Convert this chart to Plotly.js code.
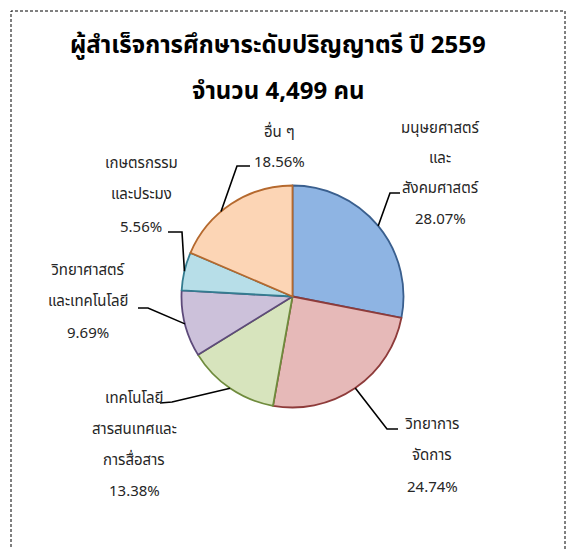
<!DOCTYPE html>
<html>
<head>
<meta charset="utf-8">
<script src="https://cdn.plot.ly/plotly-3.0.1.min.js"></script>
<style>html,body{margin:0;padding:0;background:#fff;}#chart{width:570px;height:549px;}</style>
</head>
<body>
<div id="chart"></div>
<script>
// ---- data ----
const categories = ['มนุษยศาสตร์และสังคมศาสตร์', 'วิทยาการจัดการ', 'เทคโนโลยีสารสนเทศและการสื่อสาร', 'วิทยาศาสตร์และเทคโนโลยี', 'เกษตรกรรมและประมง', 'อื่น ๆ'];
const percents = [28.07, 24.74, 13.38, 9.69, 5.56, 18.56];
const labelLines = [
  ['มนุษยศาสตร์', 'และ', 'สังคมศาสตร์'],
  ['วิทยาการ', 'จัดการ'],
  ['เทคโนโลยี', 'สารสนเทศและ', 'การสื่อสาร'],
  ['วิทยาศาสตร์', 'และเทคโนโลยี'],
  ['เกษตรกรรม', 'และประมง'],
  ['อื่น ๆ']
];
const titleLines = ['ผู้สำเร็จการศึกษาระดับปริญญาตรี ปี 2559', 'จำนวน 4,499 คน'];

// ---- styles ----
const fills = ['#8EB4E3', '#E6B9B8', '#D7E4BD', '#CCC1DA', '#B7DEE8', '#FCD5B5'];
const borders = ['#3A5F8E', '#8E3B3A', '#6F8B3D', '#5D4A7A', '#347C90', '#B5692E'];
const W = 570, H = 549;
const cx = 292.5, cy = 296.5, R = 111;
// label block layout (pixels): center x, first line y, line spacing
const labelPos = [
  {x: 440, y: 128, dy: 30.5},
  {x: 432, y: 424, dy: 31.5},
  {x: 134, y: 398, dy: 31.3},
  {x: 88,  y: 270, dy: 31.5},
  {x: 141, y: 163, dy: 32},
  {x: 279, y: 132, dy: 30}
];
// connectors: label end, elbow, fraction along slice where the line meets
const connectors = [
  {a: [400, 193], b: [390, 193], f: 0.5},
  {a: [398, 429], b: [387, 429], f: 0.5},
  {a: [160, 403], b: [172, 402], f: 0.5},
  {a: [138, 308], b: [148, 308], f: 0.5},
  {a: [168, 232], b: [182, 232], f: 0.5},
  {a: [250, 166], b: [237, 166], f: 0.4}
];

const px = x => x / W;
const py = y => 1 - y / H;
const font = "Tahoma, 'Noto Sans Thai', 'Leelawadee UI', sans-serif";

const annotations = [];
titleLines.forEach((t, i) => {
  annotations.push({text: '<b>' + t + '</b>', x: px(278), y: py(i === 0 ? 46 : 92), xref: 'paper', yref: 'paper',
    showarrow: false, xanchor: 'center', yanchor: 'middle', font: {family: font, size: 24, color: '#000'}});
});
const total = percents.reduce((s, v) => s + v, 0);
let cum = 0;
const shapes = [];
percents.forEach((v, i) => {
  const lines = labelLines[i].concat([v.toFixed(2) + '%']);
  const p = labelPos[i];
  lines.forEach((ln, j) => {
    annotations.push({text: ln, x: px(p.x), y: py(p.y + j * p.dy), xref: 'paper', yref: 'paper',
      showarrow: false, xanchor: 'center', yanchor: 'middle', font: {family: font, size: 15, color: '#262626'}});
  });
  const c = connectors[i];
  const ang = (cum + v * c.f) / total * 2 * Math.PI;
  const ex = cx + R * Math.sin(ang), ey = cy - R * Math.cos(ang);
  shapes.push({type: 'path', xref: 'paper', yref: 'paper',
    path: `M ${px(c.a[0])} ${py(c.a[1])} L ${px(c.b[0])} ${py(c.b[1])} L ${px(ex)} ${py(ey)}`,
    line: {color: '#000', width: 1.6}});
  cum += v;
});
// dashed frame
shapes.push({type: 'rect', xref: 'paper', yref: 'paper', x0: px(11), x1: px(565), y0: py(560), y1: py(11),
  line: {color: '#000', width: 1, dash: '3px,2px'}});

const trace = {
  type: 'pie', labels: categories, values: percents, sort: false, direction: 'clockwise', rotation: 0,
  textinfo: 'none', hoverinfo: 'label+percent',
  marker: {colors: fills, line: {color: borders, width: 1.8}},
  domain: {x: [px(cx - R), px(cx + R)], y: [py(cy + R), py(cy - R)]},
  showlegend: false
};
Plotly.newPlot('chart', [trace], {
  width: W, height: H, margin: {l: 0, r: 0, t: 0, b: 0},
  paper_bgcolor: '#fff', showlegend: false, annotations, shapes
}, {displayModeBar: false, staticPlot: true});
</script>
</body>
</html>
